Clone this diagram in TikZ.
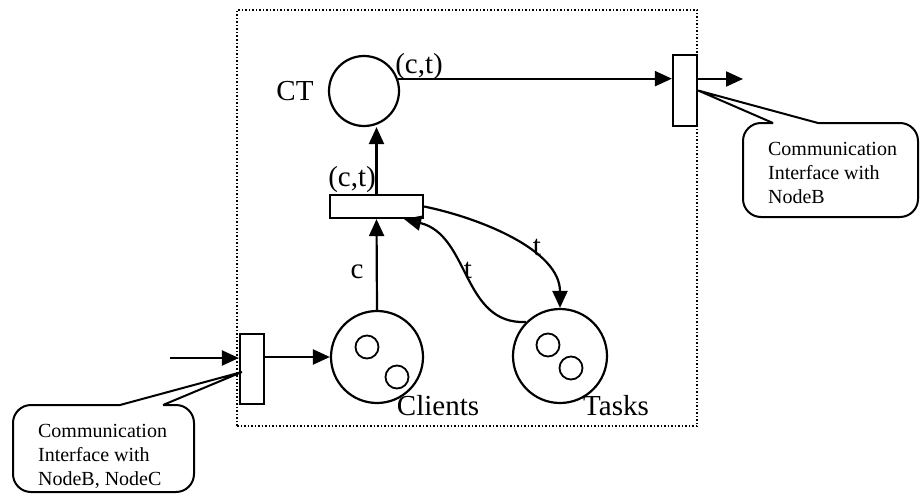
\documentclass[tikz,border=0pt]{standalone}
\usepackage{fontspec}
\setmainfont{Liberation Serif}
\usetikzlibrary{arrows.meta,calc}
\begin{document}
\begin{tikzpicture}[x=1pt,y=-1pt,
  line width=2.2pt,
  arr/.style={-{Triangle[length=17pt,width=15pt]}},
  place/.style={circle,draw,minimum size=#1,inner sep=0pt},
  token/.style={circle,draw,line width=1.8pt,minimum size=23pt,inner sep=0pt},
  trans/.style={rectangle,draw,inner sep=0pt,fill=white},
  lbl/.style={font=\fontsize{29}{30}\selectfont,inner sep=0pt},
  calltext/.style={font=\fontsize{20}{24}\selectfont,align=left,inner sep=0pt,anchor=west},
  callout/.style={line width=2pt,rounded corners=18pt}]
\useasboundingbox (0,0) rectangle (920,495);
% dotted boundary
\node[draw,dotted,line width=1.5pt,minimum width=460pt,minimum height=416pt,inner sep=0pt] (net) at (467,218) {};
% places
\node[place=70pt] (CT) at (364,91) {};
\node[place=92pt] (Clients) at (377,357) {};
\node[place=94pt] (Tasks) at (560,356) {};
\node[token] (c1) at (367,347) {};
\node[token] (c2) at (397,377) {};
\node[token] (t1) at (548,345) {};
\node[token] (t2) at (571,368) {};
% transitions
\node[trans,minimum width=93pt,minimum height=23pt] (T1) at (376.5,206.5) {};
\node[trans,minimum width=24pt,minimum height=71pt] (T2) at (685,90.5) {};
\node[trans,minimum width=24pt,minimum height=70pt] (T3) at (252,369) {};
% labels
\node[lbl] (lCT) at (295,91) {CT};
\node[lbl] (lct1) at (419,67) {(c,t)};
\node[lbl] (lct2) at (352,180) {(c,t)};
\node[lbl] (lc) at (357,272) {c};
\node[lbl] (lt1) at (537,247) {t};
\node[lbl] (lt2) at (468,270) {t};
\node[lbl,anchor=base] (lClients) at (438,415) {Clients};
\node[lbl,anchor=base] (lTasks) at (616,415) {Tasks};
% coordinates
\coordinate (outR) at (743,79);
\coordinate (inL) at (170,358);
\coordinate (backT) at ($(T1.south east)+(-20,0)$);
% arcs
\draw[arr] (CT.20) -- (CT.20 -| T2.west);
\draw[arr] (T2.east |- outR) -- (outR);
\draw[arr] (T1.north) -- (T1.north |- CT.south);
\draw[arr] (Clients.north) -- (T1.south);
\draw[arr] (inL) -- (inL -| T3.west);
\draw[arr] (T3.east |- Clients.west) -- (Clients.west);
\draw[arr] (T1.east) .. controls (480,218) and (560,250) .. (Tasks.north);
\draw[arr] (Tasks.135) .. controls (462,325) and (470,235) .. (backT);
% callouts
\node[calltext] (cR) at (767,173) {Communication\\Interface with\\NodeB};
\draw[callout] (818,123) -- (918,123) -- (918,217) -- (743,217) -- (743,123) -- (773,123);
\draw[line width=2pt] (773,123) -- (T2.east) -- (818,123);
\node[calltext] (cL) at (37,456) {Communication\\Interface with\\NodeB, NodeC};
\draw[callout] (163,405) -- (194,405) -- (194,492) -- (13,492) -- (13,405) -- (120,405);
\draw[line width=2pt] (120,405) -- ($(T3.west)+(3,3)$) -- (163,405);
\end{tikzpicture}
\end{document}
